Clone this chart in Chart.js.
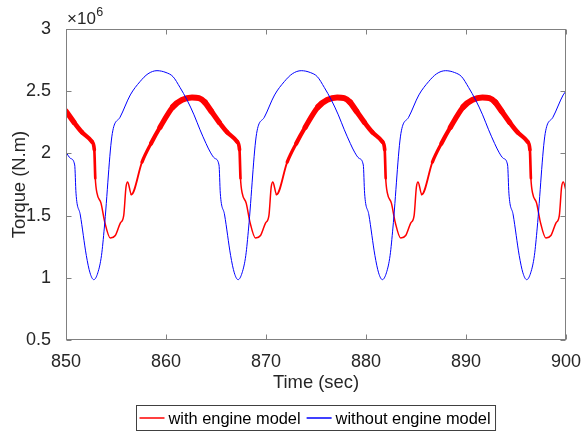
<!DOCTYPE html>
<html><head><meta charset="utf-8">
<script src="https://cdn.jsdelivr.net/npm/chart.js@4.4.1/dist/chart.umd.min.js"></script>
<style>html,body{margin:0;padding:0;background:#fff}canvas{display:block}</style>
</head><body>
<canvas id="c" width="583" height="435"></canvas>
<script>
// ---- data (torque in units of 10^6 N.m) ----
const xTicks = [850, 860, 870, 880, 890, 900];
const yTicks = [0.5, 1, 1.5, 2, 2.5, 3];
const seriesLabels = ['with engine model', 'without engine model'];

const withEngineTime = [
  850, 850.8, 851.6, 852.6, 852.83, 852.93, 853.1, 853.5, 853.87, 854.43, 854.93, 855.43, 855.77, 856.0, 856.17, 856.53, 857.6, 858.5, 859.4, 860.7, 861.6, 862.6, 863.3, 863.9,
  864.52, 865.32, 866.12, 867.12, 867.35, 867.45, 867.62, 868.02, 868.39, 868.95, 869.45, 869.95, 870.29, 870.52, 870.69, 871.05, 872.12, 873.02, 873.92, 875.22, 876.12, 877.12, 877.82, 878.42,
  879.04, 879.84, 880.64, 881.64, 881.87, 881.97, 882.14, 882.54, 882.91, 883.47, 883.97, 884.47, 884.81, 885.04, 885.21, 885.57, 886.64, 887.54, 888.44, 889.74, 890.64, 891.64, 892.34, 892.94,
  893.56, 894.36, 895.16, 896.16, 896.39, 896.49, 896.66, 897.06, 897.43, 897.99, 898.49, 898.99, 899.33, 899.56, 899.73, 900
];
const withEngineTorque = [
  2.34, 2.25, 2.17, 2.094, 2.03, 1.80, 1.68, 1.60, 1.45, 1.32, 1.34, 1.44, 1.50, 1.73, 1.77, 1.67, 1.93, 2.08, 2.21, 2.375, 2.43, 2.45, 2.445, 2.41,
  2.34, 2.25, 2.17, 2.094, 2.03, 1.80, 1.68, 1.60, 1.45, 1.32, 1.34, 1.44, 1.50, 1.73, 1.77, 1.67, 1.93, 2.08, 2.21, 2.375, 2.43, 2.45, 2.445, 2.41,
  2.34, 2.25, 2.17, 2.094, 2.03, 1.80, 1.68, 1.60, 1.45, 1.32, 1.34, 1.44, 1.50, 1.73, 1.77, 1.67, 1.93, 2.08, 2.21, 2.375, 2.43, 2.45, 2.445, 2.41,
  2.34, 2.25, 2.17, 2.094, 2.03, 1.80, 1.68, 1.60, 1.45, 1.32, 1.34, 1.44, 1.50, 1.73, 1.77, 1.70
];
const withoutEngineTime = [
  850, 850.45, 850.87, 851, 851.43, 852.03, 852.4, 852.78, 853.18, 853.55, 853.83, 854.63, 855.4, 856.43, 857.4, 858.2, 859.1, 860, 860.7, 861.4, 862.1, 862.8, 863.4, 864,
  864.43, 864.88, 865.3, 865.43, 865.86, 866.46, 866.83, 867.21, 867.61, 867.98, 868.26, 869.06, 869.83, 870.86, 871.83, 872.63, 873.53, 874.43, 875.13, 875.83, 876.53, 877.23, 877.83, 878.43,
  878.86, 879.31, 879.73, 879.86, 880.29, 880.89, 881.26, 881.64, 882.04, 882.41, 882.69, 883.49, 884.26, 885.29, 886.26, 887.06, 887.96, 888.86, 889.56, 890.26, 890.96, 891.66, 892.26, 892.86,
  893.29, 893.74, 894.16, 894.29, 894.72, 895.32, 895.69, 896.07, 896.47, 896.84, 897.12, 897.92, 898.69, 899.72, 900
];
const withoutEngineTorque = [
  2.01, 1.96, 1.907, 1.68, 1.505, 1.18, 1.04, 0.985, 1.04, 1.18, 1.40, 2.16, 2.29, 2.47, 2.577, 2.64, 2.665, 2.65, 2.617, 2.53, 2.43, 2.31, 2.19, 2.08,
  2.01, 1.96, 1.907, 1.68, 1.505, 1.18, 1.04, 0.985, 1.04, 1.18, 1.40, 2.16, 2.29, 2.47, 2.577, 2.64, 2.665, 2.65, 2.617, 2.53, 2.43, 2.31, 2.19, 2.08,
  2.01, 1.96, 1.907, 1.68, 1.505, 1.18, 1.04, 0.985, 1.04, 1.18, 1.40, 2.16, 2.29, 2.47, 2.577, 2.64, 2.665, 2.65, 2.617, 2.53, 2.43, 2.31, 2.19, 2.08,
  2.01, 1.96, 1.907, 1.68, 1.505, 1.18, 1.04, 0.985, 1.04, 1.18, 1.40, 2.16, 2.29, 2.47, 2.50
];

const RED = '#ff0000', BLUE = '#0000ff';
const FONT = '"Liberation Sans", Arial, Helvetica, sans-serif';
const TXT = '#262626';

const toXY = (ts, vs) => ts.map((t, i) => ({x: t, y: vs[i]}));

const decor = {
  id: 'decor',
  afterDraw(chart) {
    const {ctx, chartArea: a, scales: {x, y}} = chart;
    ctx.save();
    ctx.strokeStyle = '#808080';
    ctx.lineWidth = 1;
    const L = Math.round(a.left) + 0.5, R = Math.round(a.right) - 0.5;
    const T = Math.round(a.top) + 0.5, B = Math.round(a.bottom) - 0.5;
    ctx.strokeRect(L, T, R - L, B - T);
    ctx.beginPath();
    xTicks.forEach(v => {
      const px = Math.round(x.getPixelForValue(v)) + 0.5;
      ctx.moveTo(px, B); ctx.lineTo(px, B - 5);
      ctx.moveTo(px, T); ctx.lineTo(px, T + 5);
    });
    yTicks.forEach(v => {
      const py = Math.round(y.getPixelForValue(v)) + 0.5;
      ctx.moveTo(L, py); ctx.lineTo(L + 5, py);
      ctx.moveTo(R, py); ctx.lineTo(R - 5, py);
    });
    ctx.stroke();

    // exponent label
    ctx.fillStyle = TXT;
    ctx.textAlign = 'left';
    ctx.textBaseline = 'alphabetic';
    ctx.font = '17px ' + FONT;
    const base = '\u00d710';
    ctx.fillText(base, a.left + 1, 24);
    const bw = ctx.measureText(base).width;
    ctx.font = '12.5px ' + FONT;
    ctx.fillText('6', a.left + 1 + bw + 0.5, 16);

    // legend
    ctx.font = '16.4px ' + FONT;
    const w1 = ctx.measureText(seriesLabels[0]).width;
    const w2 = ctx.measureText(seriesLabels[1]).width;
    const total = 3 + 25 + 4 + w1 + 6 + 25 + 4 + w2 + 5;
    const lx = Math.round((a.left + a.right) / 2 - total / 2) + 0.5;
    const ly = 405.5, lh = 25;
    ctx.fillStyle = '#fff';
    ctx.fillRect(lx, ly, total, lh);
    ctx.strokeStyle = '#404040';
    ctx.lineWidth = 1;
    ctx.strokeRect(lx, ly, total, lh);
    const cy = ly + lh / 2;
    let cx = lx + 3;
    ctx.lineWidth = 1.5;
    ctx.strokeStyle = RED;
    ctx.beginPath(); ctx.moveTo(cx, cy); ctx.lineTo(cx + 25, cy); ctx.stroke();
    cx += 29;
    ctx.fillStyle = '#000';
    ctx.textBaseline = 'middle';
    ctx.fillText(seriesLabels[0], cx, cy + 1);
    cx += w1 + 6;
    ctx.strokeStyle = BLUE;
    ctx.beginPath(); ctx.moveTo(cx, cy); ctx.lineTo(cx + 25, cy); ctx.stroke();
    cx += 29;
    ctx.fillText(seriesLabels[1], cx, cy + 1);
    ctx.restore();
  }
};

const redWidth = c => {
  const v = (c.p0.parsed.y + c.p1.parsed.y) / 2;
  return Math.max(1.5, Math.min(6, 1.5 + (v - 1.75) * 7));
};

new Chart(document.getElementById('c'), {
  type: 'line',
  data: {
    datasets: [
      {
        label: seriesLabels[0],
        data: toXY(withEngineTime, withEngineTorque),
        borderColor: RED,
        borderWidth: 1.5,
        segment: { borderWidth: redWidth },
        borderJoinStyle: 'round',
        borderCapStyle: 'round',
        pointRadius: 0,
        cubicInterpolationMode: 'monotone',
        fill: false,
        clip: 0,
        order: 2
      },
      {
        label: seriesLabels[1],
        data: toXY(withoutEngineTime, withoutEngineTorque),
        borderColor: BLUE,
        borderWidth: 1,
        pointRadius: 0,
        cubicInterpolationMode: 'monotone',
        fill: false,
        clip: 0,
        order: 1
      }
    ]
  },
  options: {
    responsive: false,
    devicePixelRatio: 1,
    animation: false,
    layout: { padding: { top: 29, right: 17, bottom: 40, left: 0 } },
    plugins: { legend: { display: false }, tooltip: { enabled: false } },
    scales: {
      x: {
        type: 'linear', min: 850, max: 900,
        afterBuildTicks: s => { s.ticks = xTicks.map(v => ({value: v})); },
        afterFit: s => { s.height = 55; s.paddingLeft = 0; s.paddingRight = 0; },
        grid: { display: false },
        border: { display: false },
        ticks: { color: TXT, font: { family: FONT, size: 18 }, padding: 3, maxRotation: 0,
                 callback: v => String(v) },
        title: { display: true, text: 'Time (sec)', color: TXT, font: { family: FONT, size: 18.4 },
                 padding: { top: 1, bottom: 1 } }
      },
      y: {
        type: 'linear', min: 0.5, max: 3,
        afterBuildTicks: s => { s.ticks = yTicks.map(v => ({value: v})); },
        afterFit: s => { s.width = 66; s.paddingTop = 0; s.paddingBottom = 0; },
        grid: { display: false },
        border: { display: false },
        ticks: { color: TXT, font: { family: FONT, size: 18 }, padding: 7,
                 callback: v => String(+(+v).toFixed(1)) },
        title: { display: true, text: 'Torque (N.m)', color: TXT, font: { family: FONT, size: 18.4 },
                 padding: { top: 9, bottom: 9 } }
      }
    }
  },
  plugins: [decor]
});
</script>
</body></html>
